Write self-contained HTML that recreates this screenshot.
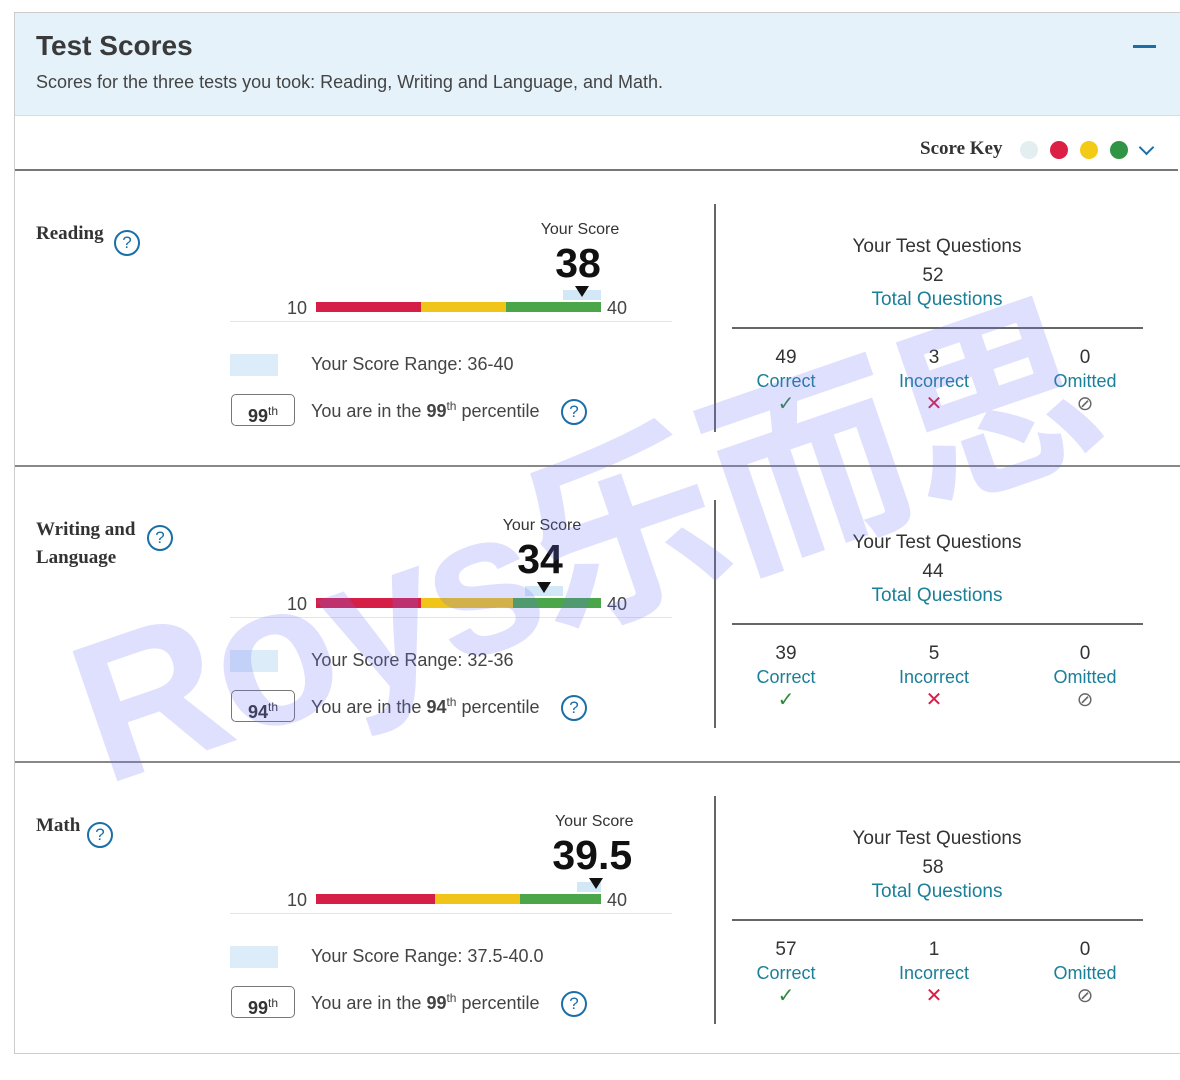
<!DOCTYPE html>
<html><head><meta charset="utf-8"><style>
body{margin:0;width:1180px;height:1080px;background:#fff;position:relative;overflow:hidden;font-family:"Liberation Sans",sans-serif;color:#333}
.a{position:absolute}
.t{white-space:nowrap}
.q{width:22px;height:22px;border:2px solid #1a6fa8;border-radius:50%;color:#1a6fa8;font-size:17px;text-align:center;line-height:22px;box-sizing:content-box}
.teal{color:#1a7f98}
</style></head><body>
<div class="a" style="left:14px;top:12px;width:1166px;height:1040px;border:1px solid #ccc;border-right:none"></div>
<div class="a" style="left:15px;top:13px;width:1165px;height:102px;background:#e5f2fa;border-bottom:1px solid #cfe0ea"></div>
<div class="a t" style="left:36px;top:30px;font-size:28px;font-weight:bold;color:#3a3a3a">Test Scores</div>
<div class="a t" style="left:36px;top:72px;font-size:18px;color:#444">Scores for the three tests you took: Reading, Writing and Language, and Math.</div>
<div class="a" style="left:1133px;top:45px;width:23px;height:3px;background:#1a6fa8"></div>
<div class="a t" style="left:920px;top:138px;font-size:19px;font-weight:bold;font-family:'Liberation Serif',serif;color:#333">Score Key</div>
<div class="a" style="left:1020px;top:141px;width:18px;height:18px;border-radius:50%;background:#e3eef0"></div>
<div class="a" style="left:1050px;top:141px;width:18px;height:18px;border-radius:50%;background:#dc1f44"></div>
<div class="a" style="left:1080px;top:141px;width:18px;height:18px;border-radius:50%;background:#f3cb17"></div>
<div class="a" style="left:1110px;top:141px;width:18px;height:18px;border-radius:50%;background:#2f9443"></div>
<div class="a" style="left:1141px;top:142px;width:9px;height:9px;border-right:2px solid #1a6fa8;border-bottom:2px solid #1a6fa8;transform:rotate(45deg)"></div>
<div class="a" style="left:15px;top:169px;width:1163px;height:2px;background:#777"></div>
<div id="root"></div>
<div class="a t" style="left:120px;top:600px;font-size:200px;line-height:230px;font-weight:bold;color:rgba(110,110,250,0.22);transform:rotate(-19deg);transform-origin:0 100%;font-family:'Liberation Sans','Noto Sans CJK SC',sans-serif;letter-spacing:-4px">Roys乐而思</div>
<script>
const tests=["Reading","Writing and|Language","Math"];
const scores=[38,34,39.5];
const rangeLo=[36,32,37.5];
const rangeHi=[40,36,40];
const rangeText=["36-40","32-36","37.5-40.0"];
const redEnd=[21,21,22.5];
const yellowEnd=[30,30.7,31.5];
const percentile=[99,94,99];
const totals=[52,44,58];
const correct=[49,39,57];
const incorrect=[3,5,1];
const omitted=[0,0,0];
const root=document.getElementById('root');
const X0=316,X1=601,MIN=10,MAX=40;
const sx=v=>X0+(v-MIN)/(MAX-MIN)*(X1-X0);
function el(parent,css,html){const d=document.createElement('div');d.className='a';d.style.cssText=css;if(html!==undefined)d.innerHTML=html;parent.appendChild(d);return d;}
tests.forEach((name,i)=>{
  const sec=el(root,`left:0;top:${170+i*296}px;width:1180px;height:296px`);
  
  
  if(i<2){const ln=el(sec,'left:15px;top:295px;width:1165px;height:2px;background:#888');}
  const parts=name.split('|');
  const nm=el(sec,`left:36px;top:50px;font-size:19px;font-weight:bold;font-family:'Liberation Serif',serif;line-height:28px;color:#333`,parts.join('<br>'));
  nm.className='a t';
  
  
  const qx=parts.length>1?147:(i==0?114:87);
  const qq=el(sec,`left:${qx}px;top:${i==1?355-296:60}px`,'?');qq.className='a q';
  
  
  const s=scores[i],cx=sx(s);
  const ys=el(sec,`left:${cx-52}px;top:51px;width:100px;text-align:center;font-size:16px;color:#333`,'Your Score');
  
  const sv=el(sec,`left:${cx-84}px;top:70px;width:160px;text-align:center;font-size:41px;font-weight:bold;color:#111`,String(s));
  
  const rb=el(sec,`left:${sx(rangeLo[i])}px;top:120px;width:${sx(rangeHi[i])-sx(rangeLo[i])}px;height:10px;background:#d3e8f6`);
  
  const bars=[[MIN,redEnd[i],'#d61f47'],[redEnd[i],yellowEnd[i],'#f0c419'],[yellowEnd[i],MAX,'#4aa648']];
  bars.forEach((b,k)=>{const r=el(sec,`left:${sx(b[0])}px;top:132px;width:${sx(b[1])-sx(b[0])}px;height:10px;background:${b[2]}`);
    });
  const mk=el(sec,`left:${cx-7}px;top:116px;width:0;height:0;border-left:7px solid transparent;border-right:7px solid transparent;border-top:11px solid #111`);
  
  const l10=el(sec,`left:287px;top:128px;font-size:18px;color:#444`,'10');
  const l40=el(sec,`left:607px;top:128px;font-size:18px;color:#444`,'40');
  const bl=el(sec,'left:230px;top:151px;width:442px;height:1px;background:#e4e4e4');
  const sw=el(sec,'left:230px;top:184px;width:48px;height:22px;background:#dcecf8');
  const rt=el(sec,'left:311px;top:184px;font-size:18px;color:#444','Your Score Range: '+rangeText[i]);rt.className='a t';
  const pb=el(sec,'left:231px;top:224px;width:62px;height:30px;border:1.5px solid #777;border-radius:5px;text-align:center;font-size:18px;font-weight:bold;line-height:32px;color:#333',percentile[i]+'<sup style="font-size:12px;font-weight:normal">th</sup>');
  
  const pt=el(sec,'left:311px;top:229px;font-size:18px;color:#444','You are in the <b>'+percentile[i]+'<sup style="font-size:12px;font-weight:normal">th</sup></b> percentile');pt.className='a t';
  
  const pq=el(sec,'left:561px;top:229px','?');pq.className='a q';
  const vd=el(sec,'left:714px;top:34px;width:2px;height:228px;background:#666');
  const h=el(sec,'left:737px;top:66px;width:400px;text-align:center;font-size:19px;color:#333','Your Test Questions');
  const tv=el(sec,'left:737px;top:95px;width:392px;text-align:center;font-size:19px;color:#333',String(totals[i]));
  const tl=el(sec,'left:737px;top:119px;width:400px;text-align:center;font-size:19px','Total Questions');tl.classList.add('teal');
  const hd=el(sec,'left:732px;top:157px;width:411px;height:2px;background:#666');
  const cols=[[786,correct[i],'Correct','<span style="color:#2f8a3a">✓</span>'],[934,incorrect[i],'Incorrect','<span style="color:#d61f47">✕</span>'],[1085,omitted[i],'Omitted','<span style="color:#666">⊘</span>']];
  cols.forEach((c,k)=>{
    const n=el(sec,`left:${c[0]-60}px;top:177px;width:120px;text-align:center;font-size:19px;color:#333`,String(c[1]));
    const l=el(sec,`left:${c[0]-60}px;top:201px;width:120px;text-align:center;font-size:18px`,c[2]);l.classList.add('teal');
    const ic=el(sec,`left:${c[0]-60}px;top:221px;width:120px;text-align:center;font-size:20px`,c[3]);
  });
});
</script>
</body></html>
